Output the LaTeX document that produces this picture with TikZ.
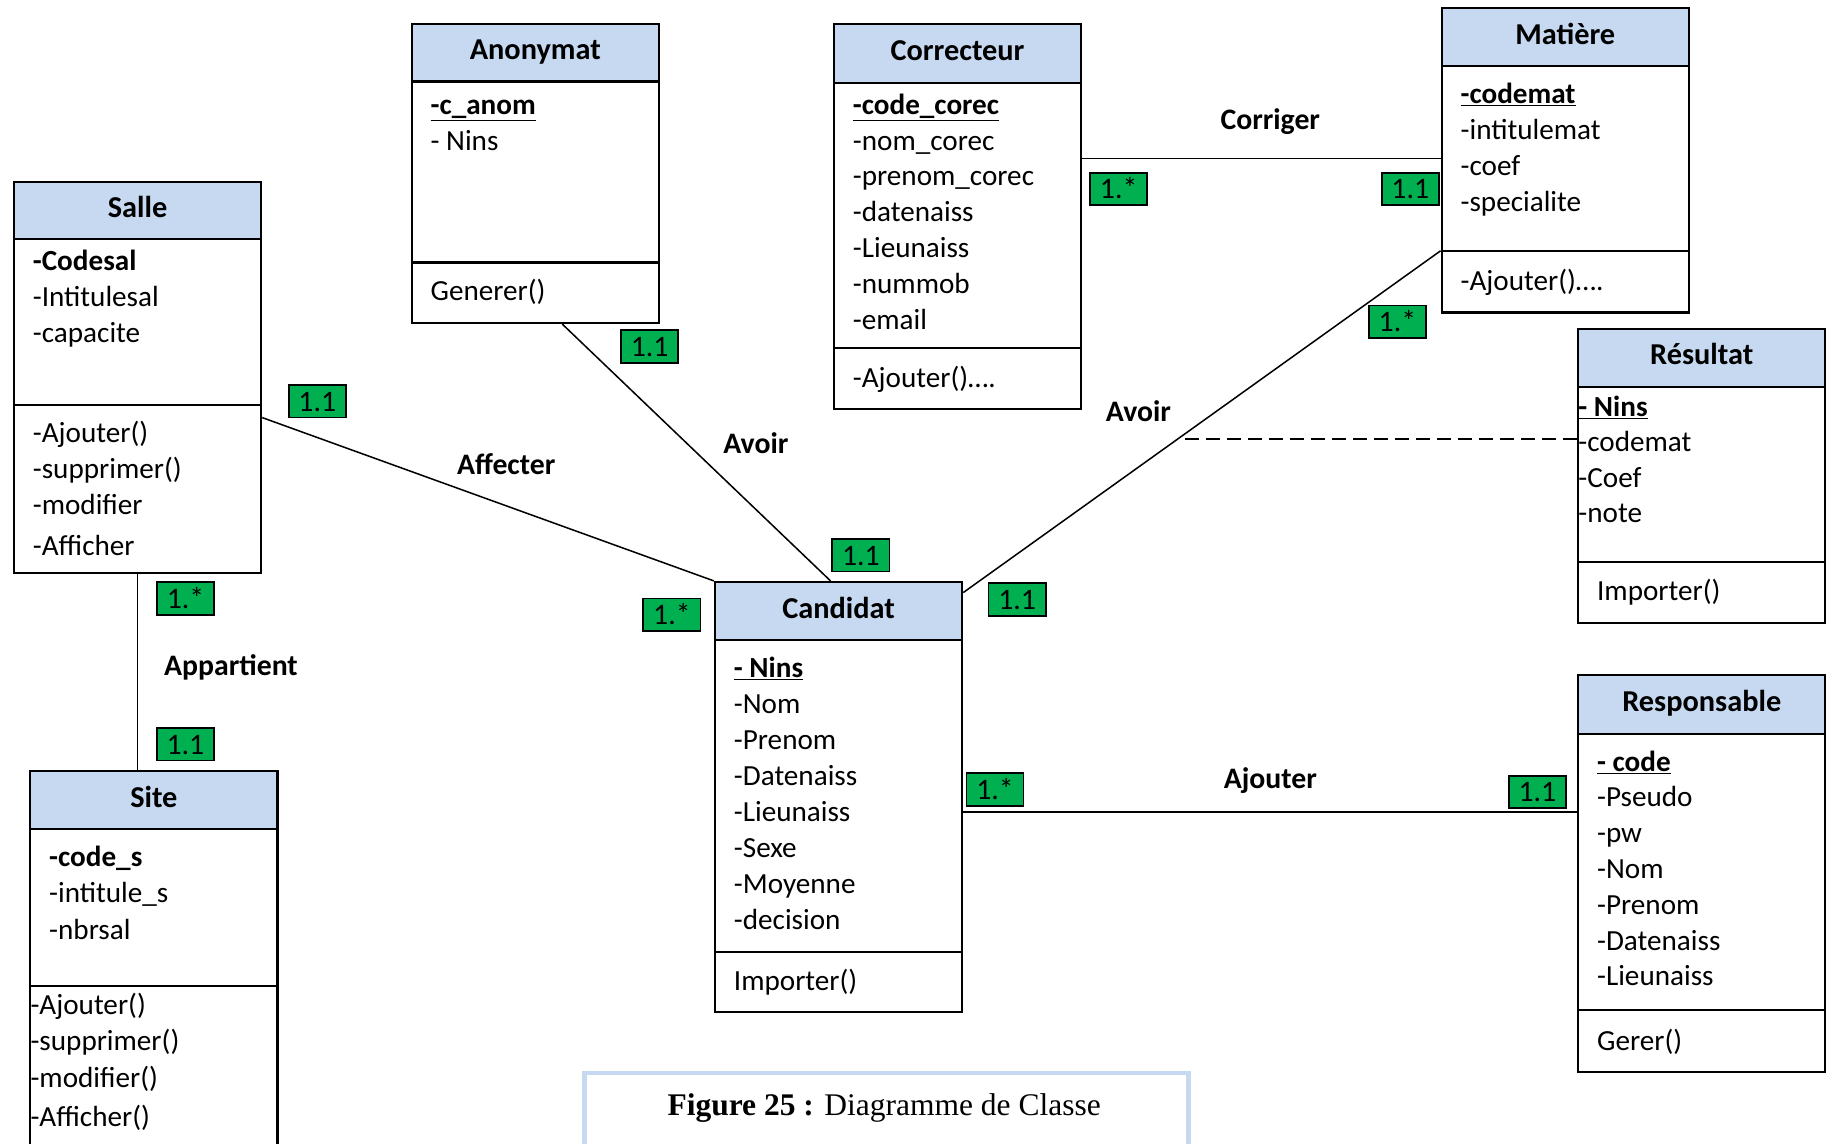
\documentclass[tikz,border=0pt]{standalone}
\usepackage{fontspec}
\setmainfont{Carlito}
\newfontfamily\capfont{Liberation Serif}
\definecolor{hdrblue}{HTML}{C6D9F1}
\definecolor{mgreen}{HTML}{00B050}
\definecolor{capblue}{HTML}{C6D9F1}
\begin{document}
\begin{tikzpicture}[x=1pt,y=-1pt,
  box/.style={draw, line width=1.8pt, anchor=north west, inner sep=0pt, minimum width=212pt},
  hdr/.style={draw, line width=1.8pt, fill=hdrblue, anchor=north west, inner sep=0pt,
    minimum width=212pt, font=\fontsize{26}{30}\selectfont\bfseries, text height=17pt, text depth=5pt},
  txt/.style={anchor=base west, inner sep=0pt, font=\fontsize{25}{30}\selectfont},
  sep/.style={line width=1.8pt},
  conn/.style={line width=1.3pt},
  lbl/.style={font=\fontsize{25.5}{28}\selectfont\bfseries, inner sep=0pt, text height=17pt, text depth=5pt},
  mult/.style={draw, line width=1.5pt, fill=mgreen, minimum width=49pt, minimum height=28pt,
    inner sep=0pt, font=\fontsize{25.5}{28}\selectfont, text height=17pt, text depth=0pt},
]
\useasboundingbox (0,0) rectangle (1568,980);
\clip (0,0) rectangle (1568,980);

% ---------- Anonymat
\node[box, minimum height=256pt] (anon) at (352,20) {};
\node[hdr, minimum height=49pt] (anonh) at (352,20) {Anonymat};
\draw[sep] (anon.west |- 0,225) -- (anon.east |- 0,225);
\foreach \t [count=\i from 0] in {{\underline{\textbf{-c\_anom}}},{- Nins}}
  \node[txt] (anona\i) at (369,{98+30.7*\i}) {\t};
\node[txt] (anonm0) at (369,258) {Generer()};

% ---------- Correcteur
\node[box, minimum height=330pt] (corr) at (714,20) {};
\node[hdr, minimum height=50pt] (corrh) at (714,20) {Correcteur};
\draw[sep] (corr.west |- 0,298) -- (corr.east |- 0,298);
\foreach \t [count=\i from 0] in {{\underline{\textbf{-code\_corec}}},{-nom\_corec},{-prenom\_corec},{-datenaiss},{-Lieunaiss},{-nummob},{-email}}
  \node[txt] (corra\i) at (731,{98+30.7*\i}) {\t};
\node[txt] (corrm0) at (731,332) {-Ajouter()\dots.};

% ---------- Matiere
\node[box, minimum height=261pt] (mat) at (1235,6) {};
\node[hdr, minimum height=50pt] (math) at (1235,6) {Matière};
\draw[sep] (mat.west |- 0,215) -- (mat.east |- 0,215);
\foreach \t [count=\i from 0] in {{\underline{\textbf{-codemat}}},{-intitulemat},{-coef},{-specialite}}
  \node[txt] (mata\i) at (1252,{89+30.7*\i}) {\t};
\node[txt] (matm0) at (1252,249) {-Ajouter()\dots.};

% ---------- Salle
\node[box, minimum height=335pt] (salle) at (11,155) {};
\node[hdr, minimum height=49pt] (salleh) at (11,155) {Salle};
\draw[sep] (salle.west |- 0,347) -- (salle.east |- 0,347);
\foreach \t [count=\i from 0] in {{\textbf{-Codesal}},{-Intitulesal},{-capacite}}
  \node[txt] (sallea\i) at (28,{232+31*\i}) {\t};
\node[txt] (sallem0) at (28,379) {-Ajouter()};
\node[txt] (sallem1) at (28,410) {-supprimer()};
\node[txt] (sallem2) at (28,441) {-modifier};
\node[txt] (sallem3) at (28,476) {-Afficher};

% ---------- Site
\node[box, minimum height=340pt] (site) at (25,660) {};
\node[hdr, minimum height=50pt] (siteh) at (25,660) {Site};
\draw[sep] (site.west |- 0,845) -- (site.east |- 0,845);
\foreach \t [count=\i from 0] in {{\textbf{-code\_s}},{-intitule\_s},{-nbrsal}}
  \node[txt] (sitea\i) at (42,{743+31*\i}) {\t};
\node[txt] (sitem0) at (26,870) {-Ajouter()};
\node[txt] (sitem1) at (26,901) {-supprimer()};
\node[txt] (sitem2) at (26,932) {-modifier()};
\node[txt] (sitem3) at (26,966) {-Afficher()};

% ---------- Candidat
\node[box, minimum height=369pt] (cand) at (612,498) {};
\node[hdr, minimum height=50pt] (candh) at (612,498) {Candidat};
\draw[sep] (cand.west |- 0,816) -- (cand.east |- 0,816);
\foreach \t [count=\i from 0] in {{\underline{\textbf{- Nins}}},{-Nom},{-Prenom},{-Datenaiss},{-Lieunaiss},{-Sexe},{-Moyenne},{-decision}}
  \node[txt] (canda\i) at (629,{581+30.86*\i}) {\t};
\node[txt] (candm0) at (629,849) {Importer()};

% ---------- Resultat
\node[box, minimum height=252pt] (res) at (1352,281) {};
\node[hdr, minimum height=50pt] (resh) at (1352,281) {Résultat};
\draw[sep] (res.west |- 0,482) -- (res.east |- 0,482);
\foreach \t [count=\i from 0] in {{\underline{\textbf{- Nins}}},{-codemat},{-Coef},{-note}}
  \node[txt] (resa\i) at (1353,{357+30.3*\i}) {\t};
\node[txt] (resm0) at (1369,515) {Importer()};

% ---------- Responsable
\node[box, minimum height=340pt] (resp) at (1352,578) {};
\node[hdr, minimum height=50pt] (resph) at (1352,578) {Responsable};
\draw[sep] (resp.west |- 0,866) -- (resp.east |- 0,866);
\foreach \t [count=\i from 0] in {{\underline{\textbf{- code}}},{-Pseudo},{-pw},{-Nom},{-Prenom},{-Datenaiss},{-Lieunaiss}}
  \node[txt] (respa\i) at (1369,{661+30.7*\i}) {\t};
\node[txt] (respm0) at (1369,901) {Gerer()};

% ---------- connectors
\draw[conn] (corr.east |- 0,136) -- (mat.west |- 0,136);
\draw[conn] ([yshift=-10pt]cand.north east) -- (mat.west |- 0,215);
\coordinate (dstart) at (1016,376);
\draw[line width=1.6pt, dash pattern=on 12pt off 6pt] (dstart) -- (res.west |- dstart);
\draw[conn] (anon.south -| 482,0) -- (cand.north -| 712,0);
\draw[conn] (salle.east |- 0,358) -- (cand.north west);
\draw[conn] (salle.south) -- (salle.south |- site.north);
\draw[conn] (cand.east |- 0,696) -- (resp.west |- 0,696);

% ---------- association labels
\node[lbl] (lcorr) at (1089,105) {Corriger};
\node[lbl] (lavoir1) at (976,355) {Avoir};
\node[lbl] (lavoir2) at (648,383) {Avoir};
\node[lbl] (laff) at (434,401) {Affecter};
\node[lbl] (lapp) at (198,573) {Appartient};
\node[lbl] (lajo) at (1089,670) {Ajouter};

% ---------- multiplicities
\node[mult] (m1) at (959,162) {1.*};
\node[mult] (m2) at (1209,162) {1.1};
\node[mult] (m3) at (1198,276) {1.*};
\node[mult] (m4) at (872,514) {1.1};
\node[mult] (m5) at (557,297) {1.1};
\node[mult] (m6) at (738,476) {1.1};
\node[mult] (m7) at (272,344) {1.1};
\node[mult] (m8) at (576,527) {1.*};
\node[mult] (m9) at (159,513) {1.*};
\node[mult] (m10) at (159,638) {1.1};
\node[mult] (m11) at (853,677) {1.*};
\node[mult] (m12) at (1318,679) {1.1};

% ---------- caption
\node[draw=capblue, line width=4pt, minimum width=518pt, minimum height=90pt, anchor=north west, inner sep=0pt] (capbox) at (499,918) {};
\node[inner sep=0pt, font=\capfont\fontsize{27}{32}\selectfont] (captext) at (758,950) {\textbf{Figure 25 :} Diagramme de Classe};
\end{tikzpicture}
\end{document}
